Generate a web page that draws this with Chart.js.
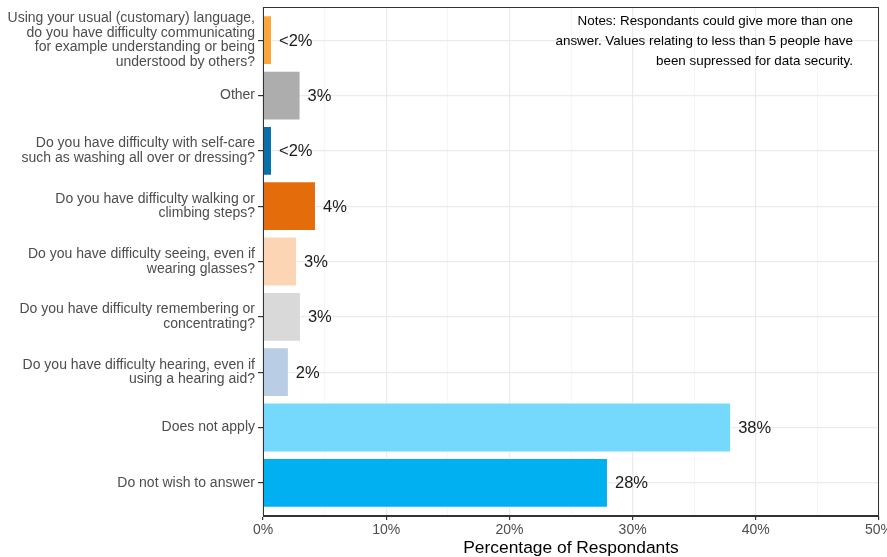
<!DOCTYPE html>
<html>
<head>
<meta charset="utf-8">
<script src="https://cdn.jsdelivr.net/npm/chart.js@4/dist/chart.umd.min.js"></script>
<style>
  html, body { margin: 0; padding: 0; background: #fff; }
  canvas { display: block; }
</style>
</head>
<body>
<canvas id="chart" width="887" height="557"></canvas>
<script>
// categories, top to bottom
const categories = [
  ['Using your usual (customary) language,', 'do you have difficulty communicating', 'for example understanding or being', 'understood by others?'],
  ['Other'],
  ['Do you have difficulty with self-care', 'such as washing all over or dressing?'],
  ['Do you have difficulty walking or', 'climbing steps?'],
  ['Do you have difficulty seeing, even if', 'wearing glasses?'],
  ['Do you have difficulty remembering or', 'concentrating?'],
  ['Do you have difficulty hearing, even if', 'using a hearing aid?'],
  ['Does not apply'],
  ['Do not wish to answer']
];
const values = [0.73, 3.05, 0.73, 4.3, 2.76, 3.08, 2.1, 38.0, 28.0];
const valueLabels = ['<2%', '3%', '<2%', '4%', '3%', '3%', '2%', '38%', '28%'];
const barColors = ['#FDA73A', '#ADADAD', '#0A70A8', '#E46C0A', '#FCD5B5', '#D9D9D9', '#B9CDE5', '#75D9FE', '#00B0F0'];
const xTicks = [0, 10, 20, 30, 40, 50];
const notes = ['Notes: Respondants could give more than one', 'answer. Values relating to less than 5 people have', 'been supressed for data security.'];

const FONT = '"Liberation Sans", Arial, sans-serif';

// value labels at bar ends
const valueLabelPlugin = {
  id: 'valueLabels',
  afterDatasetsDraw(chart) {
    const ctx = chart.ctx;
    const meta = chart.getDatasetMeta(0);
    ctx.save();
    ctx.font = '16.5px ' + FONT;
    ctx.fillStyle = '#1a1a1a';
    ctx.textBaseline = 'middle';
    ctx.textAlign = 'left';
    meta.data.forEach((bar, i) => {
      ctx.fillText(valueLabels[i], bar.x + 7, bar.y + 1);
    });
    ctx.restore();
  }
};

// panel border + notes text
const panelPlugin = {
  id: 'panel',
  afterDraw(chart) {
    const { ctx, chartArea: a } = chart;
    ctx.save();
    ctx.strokeStyle = '#333';
    ctx.lineWidth = 1;
    ctx.strokeRect(a.left + 0.5, a.top + 0.5, a.right - a.left - 1, a.bottom - a.top - 1);
    ctx.font = '13.4px ' + FONT;
    ctx.fillStyle = '#000';
    ctx.textAlign = 'right';
    ctx.textBaseline = 'middle';
    notes.forEach((line, i) => {
      ctx.fillText(line, a.right - 26, a.top + 14 + i * 20);
    });
    ctx.restore();
  }
};

new Chart(document.getElementById('chart'), {
  type: 'bar',
  data: {
    datasets: [{
      data: values.map((v, i) => ({ x: v, y: i })),
      backgroundColor: barColors,
      borderColor: '#ffffff',
      borderWidth: 1,
      barPercentage: 0.9,
      categoryPercentage: 1
    }]
  },
  options: {
    indexAxis: 'y',
    responsive: false,
    animation: false,
    layout: { padding: { top: 7, right: 8, left: 0, bottom: 0 } },
    plugins: {
      legend: { display: false },
      tooltip: { enabled: false }
    },
    scales: {
      x: {
        type: 'linear',
        min: 0,
        max: 50,
        afterBuildTicks: (s) => { s.ticks = [0, 5, 10, 15, 20, 25, 30, 35, 40, 45, 50].map(v => ({ value: v })); },
        afterFit: (s) => { s.height = 41; s.paddingLeft = 0; s.paddingRight = 0; },
        ticks: {
          callback: (v) => xTicks.includes(v) ? v + '%' : '',
          color: '#4d4d4d',
          font: { family: FONT, size: 14 },
          padding: 2,
          maxRotation: 0,
          autoSkip: false
        },
        grid: {
          color: (c) => (c.tick && c.tick.value % 10 === 0) ? '#ebebeb' : '#f4f4f4',
          lineWidth: (c) => (c.tick && c.tick.value % 10 === 0) ? 1.2 : 0.8,
          tickColor: (c) => (c.tick && c.tick.value % 10 === 0) ? '#333' : 'rgba(0,0,0,0)',
          tickLength: 4
        },
        border: { color: '#333', width: 1 },
        title: {
          display: true,
          text: 'Percentage of Respondants',
          color: '#000',
          font: { family: FONT, size: 17.4, lineHeight: 1.0 },
          padding: { top: 0, bottom: 0 }
        }
      },
      y: {
        type: 'linear',
        reverse: true,
        min: -0.6,
        max: 8.6,
        offset: false,
        afterBuildTicks: (s) => { s.ticks = categories.map((_, i) => ({ value: i })); },
        afterFit: (s) => { s.width = 263; s.paddingTop = 0; s.paddingBottom = 0; },
        ticks: {
          callback: (v) => categories[v],
          color: '#4d4d4d',
          font: { family: FONT, size: 14, lineHeight: 1.05 },
          padding: 3,
          autoSkip: false
        },
        grid: {
          offset: false,
          color: '#ebebeb',
          lineWidth: 1.2,
          tickColor: '#333',
          tickLength: 5
        },
        border: { color: '#333', width: 1 }
      }
    }
  },
  plugins: [valueLabelPlugin, panelPlugin]
});
</script>
</body>
</html>
